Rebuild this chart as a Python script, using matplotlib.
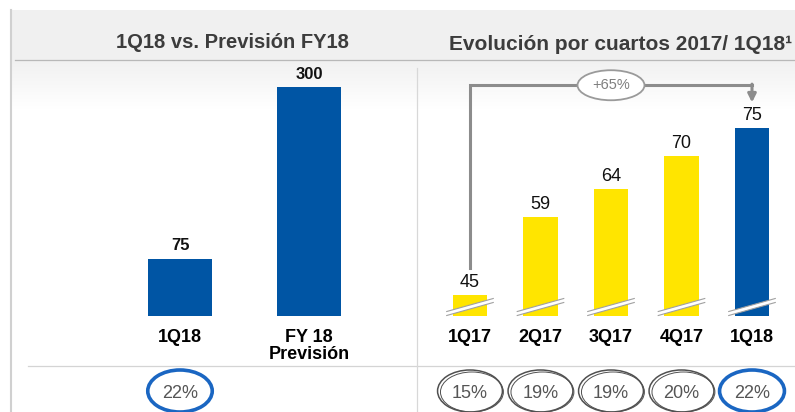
import numpy as np
import matplotlib.pyplot as plt
from matplotlib.patches import Ellipse, Polygon
from matplotlib.transforms import blended_transform_factory

plt.rcParams['font.family'] = ['Liberation Sans', 'DejaVu Sans']

# data
left_labels = ['1Q18', 'FY 18\nPrevisión']
left_values = [75, 300]
left_pct = ['22%']

right_labels = ['1Q17', '2Q17', '3Q17', '4Q17', '1Q18']
right_values = [45, 59, 64, 70, 75]
right_pct = ['15%', '19%', '19%', '20%', '22%']
growth = '+65%'

BLUE = '#0055a4'
YELLOW = '#ffe500'
GRAY_LINE = '#8c8c8c'
TITLE = '#3c3c3c'

W, H = 795, 412
fig = plt.figure(figsize=(W / 100, H / 100), dpi=100)

# background / frame lines in pixel coords
bg = fig.add_axes([0, 0, 1, 1])
bg.axis('off')
grad = np.linspace(0, 1, 100)[:, None]
grad = np.where(grad < 0.5, 0.0, (grad - 0.5) / 0.5)
cols = np.ones((100, 1, 3)) * (0.945 + 0.055 * grad[..., None])
bg.imshow(cols, extent=(11, W, 110, 10), aspect='auto', interpolation='bilinear')
bg.set_xlim(0, W)
bg.set_ylim(H, 0)
bg.plot([10.5, 10.5], [10, H], color='#d0d0d0', lw=1.5)
bg.plot([15, W], [60, 60], color='#b8b8b8', lw=0.9)
bg.plot([28, W], [365.5, 365.5], color='#d4d4d4', lw=0.9)
bg.plot([416.5, 416.5], [68, H], color='#d8d8d8', lw=0.9)

fig.text(232 / W, 1 - 42 / H, '1Q18 vs. Previsión FY18', ha='center', va='center',
         fontsize=14.5, fontweight='bold', color=TITLE)
fig.text(621 / W, 1 - 45 / H, 'Evolución por cuartos 2017/ 1Q18¹', ha='center', va='center',
         fontsize=15, fontweight='bold', color=TITLE)

y0 = (H - 316) / H
hh = 248 / H


def style(ax):
    ax.set_facecolor('none')
    for s in ax.spines.values():
        s.set_visible(False)
    ax.set_yticks([])
    ax.tick_params(axis='x', length=0, pad=9, labelsize=13)
    for t in ax.get_xticklabels():
        t.set_fontweight('bold')
        t.set_linespacing(1.05)


# left chart
axl = fig.add_axes([115 / W, y0, 260 / W, hh])
xl = np.arange(len(left_values))
axl.bar(xl, left_values, width=0.5, color=BLUE)
axl.set_xlim(-0.504, 1.512)
axl.set_ylim(0, 325)
axl.set_xticks(xl, left_labels)
style(axl)
for x, v in zip(xl, left_values):
    axl.annotate(str(v), (x, v), xytext=(0, 4), textcoords='offset points',
                 ha='center', va='bottom', fontsize=12, fontweight='bold', color='#111111')

# right chart
axr = fig.add_axes([420 / W, y0, 370 / W, hh])
xr = np.arange(len(right_values))
ymin, ymax = 41.2, 85.8
axr.bar(xr, right_values, width=0.49, color=[YELLOW] * 4 + [BLUE])
axr.set_xlim(-0.709, 4.539)
axr.set_ylim(ymin, ymax)
axr.set_xticks(xr, right_labels)
style(axr)
for x, v in zip(xr, right_values):
    axr.annotate(str(v), (x, v), xytext=(0, 3), textcoords='offset points',
                 ha='center', va='bottom', fontsize=13, color='#111111')

# axis break marks
px = (ymax - ymin) / 248
for x in xr:
    xa, xb = x - 0.33, x + 0.33
    lo_a, lo_b = ymin + 0.5 * px, ymin + 13.5 * px
    band = 4 * px
    axr.add_patch(Polygon([(xa, lo_a), (xb, lo_b), (xb, lo_b + band), (xa, lo_a + band)],
                          closed=True, facecolor='white', edgecolor='none', zorder=3, clip_on=False))
    for off in (0, band):
        axr.plot([xa, xb], [lo_a + off, lo_b + off], color='#a0a0a0', lw=0.8, zorder=4,
                 clip_on=False)

# growth bracket
y_top = max(right_values) + 7.7
axr.plot([xr[0], xr[0], xr[-1]], [right_values[0] + 4.8, y_top, y_top],
         color=GRAY_LINE, lw=2.2, solid_joinstyle='miter', clip_on=False, zorder=2)
axr.annotate('', xy=(xr[-1], right_values[-1] + 4.6), xytext=(xr[-1], y_top + 0.2),
             arrowprops=dict(arrowstyle='-|>', color=GRAY_LINE, lw=2.2,
                             mutation_scale=12, shrinkA=0, shrinkB=0))
mid = (xr[0] + xr[-1]) / 2
axr.add_patch(Ellipse((mid, y_top), 0.95, 5.4, facecolor='white', edgecolor='#9a9a9a',
                      lw=1.3, zorder=5, clip_on=False))
axr.text(mid, y_top, growth, ha='center', va='center', fontsize=10.5, color='#7f7f7f', zorder=6)


# bottom percentage circles
def circles(ax, xs, labels, width, blue_idx):
    tr = blended_transform_factory(ax.transData, fig.transFigure)
    for i, (x, lab) in enumerate(zip(xs, labels)):
        blue = i in blue_idx
        ec = '#1a66c2' if blue else '#505050'
        lw = 2.6 if blue else 1.1
        ax.add_patch(Ellipse((x, 21 / H), width, 42 / H, transform=tr, facecolor='none',
                             edgecolor=ec, lw=lw, clip_on=False))
        if not blue:
            ax.add_patch(Ellipse((x + width * 0.03, 20 / H), width * 0.97, 40 / H, transform=tr,
                                 facecolor='none', edgecolor=ec, lw=0.7, clip_on=False))
        ax.text(x, 18 / H, lab, transform=tr, ha='center', va='center', fontsize=13,
                color='#555555')


circles(axl, xl[:1], left_pct, 0.5, [0])
circles(axr, xr, right_pct, 0.92, [4])

fig.savefig('out.png', dpi=100)
